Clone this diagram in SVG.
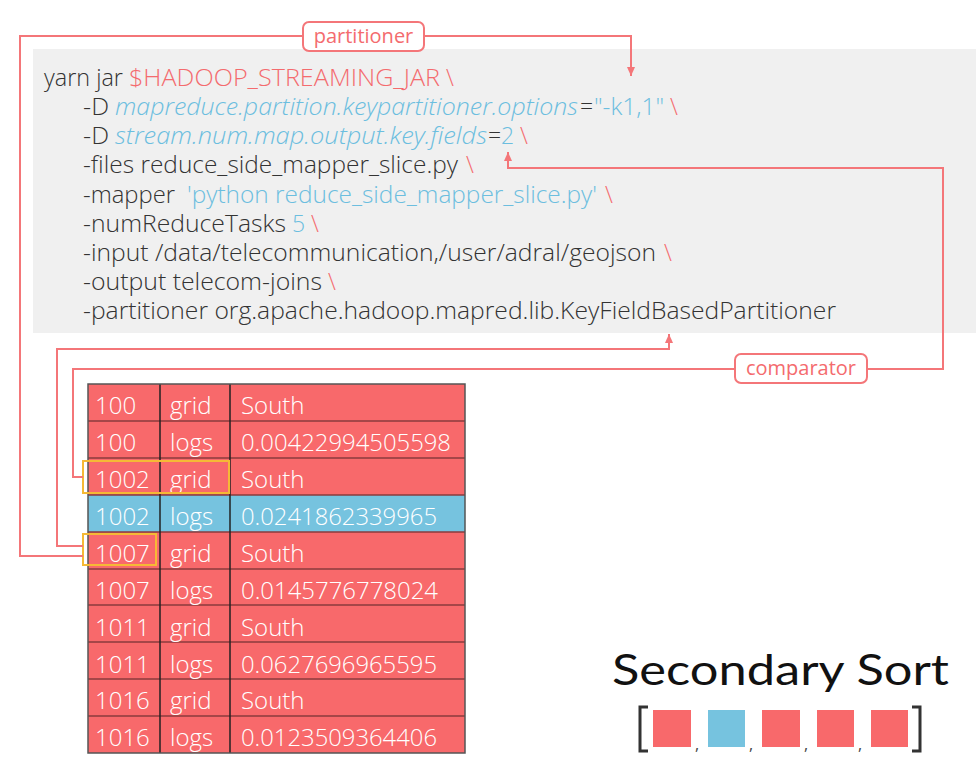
<svg xmlns="http://www.w3.org/2000/svg" width="976" height="776" viewBox="0 0 976 776">
<style>
.code{font-family:"Open Sans",Lato,"Liberation Sans",sans-serif;font-weight:300;font-size:23px;fill:#333}
.red{fill:#f46b6e}
.blue{fill:#6cbedf}
.it{font-style:italic}
.cell{font-family:"Open Sans",Lato,"Liberation Sans",sans-serif;font-weight:300;font-size:24px;fill:#fff}
.conn{fill:none;stroke:#f47679;stroke-width:2}
.lbl{fill:#fff;stroke:#f47679;stroke-width:2}
.lbltxt{font-family:"Open Sans",Lato,"Liberation Sans",sans-serif;font-size:20px;fill:#f46b6e;text-anchor:middle}
.rr{fill:#f8696b}
.bb{fill:#76c3df}
.hl{fill:none;stroke:#f5b935;stroke-width:2}
</style>
<defs>
<marker id="arr" markerWidth="10" markerHeight="10" refX="9" refY="4" orient="auto" markerUnits="userSpaceOnUse">
<path d="M0,0 L9,4 L0,8 z" fill="#f47679"/>
</marker>
</defs>
<rect width="976" height="776" fill="#fff"/>
<g id="code-block">
<rect x="33" y="49" width="943" height="284" fill="#f0f0f0"/>
<text class="code" x="44" y="86" textLength="79" lengthAdjust="spacingAndGlyphs">yarn jar</text>
<text class="code red" x="129" y="86" textLength="311" lengthAdjust="spacingAndGlyphs">$HADOOP_STREAMING_JAR</text>
<text class="code red" x="446" y="86">\</text>
<text class="code" x="83" y="115" textLength="26" lengthAdjust="spacingAndGlyphs">-D</text>
<text class="code blue it" x="115" y="115" textLength="463" lengthAdjust="spacingAndGlyphs">mapreduce.partition.keypartitioner.options</text>
<text class="code" x="580" y="115">=</text>
<text class="code blue" x="594" y="115" textLength="70" lengthAdjust="spacingAndGlyphs">"-k1,1"</text>
<text class="code red" x="670" y="115">\</text>
<text class="code" x="83" y="144" textLength="26" lengthAdjust="spacingAndGlyphs">-D</text>
<text class="code blue it" x="115" y="144" textLength="372" lengthAdjust="spacingAndGlyphs">stream.num.map.output.key.fields</text>
<text class="code" x="488" y="144">=</text>
<text class="code blue" x="501" y="144">2</text>
<text class="code red" x="520" y="144">\</text>
<text class="code" x="83" y="173" textLength="375" lengthAdjust="spacingAndGlyphs">-files reduce_side_mapper_slice.py</text>
<text class="code red" x="466" y="173">\</text>
<text class="code" x="83" y="203" textLength="92" lengthAdjust="spacingAndGlyphs">-mapper</text>
<text class="code blue" x="187" y="203" textLength="410" lengthAdjust="spacingAndGlyphs">'python reduce_side_mapper_slice.py'</text>
<text class="code red" x="605" y="203">\</text>
<text class="code" x="83" y="232" textLength="203" lengthAdjust="spacingAndGlyphs">-numReduceTasks</text>
<text class="code blue" x="292" y="232">5</text>
<text class="code red" x="311" y="232">\</text>
<text class="code" x="83" y="261" textLength="573" lengthAdjust="spacingAndGlyphs">-input /data/telecommunication,/user/adral/geojson</text>
<text class="code red" x="664" y="261">\</text>
<text class="code" x="83" y="290" textLength="239" lengthAdjust="spacingAndGlyphs">-output telecom-joins</text>
<text class="code red" x="328" y="290">\</text>
<text class="code" x="83" y="319" textLength="753" lengthAdjust="spacingAndGlyphs">-partitioner org.apache.hadoop.mapred.lib.KeyFieldBasedPartitioner</text>
</g>
<g id="table">
<rect class="rr" x="88" y="384" width="377" height="369"/>
<rect class="bb" x="88" y="495" width="377" height="37"/>
<g stroke="#8b3b3d" stroke-width="1.5">
<line x1="88" y1="421" x2="465" y2="421"/>
<line x1="88" y1="458" x2="465" y2="458"/>
<line x1="88" y1="495" x2="465" y2="495"/>
<line x1="88" y1="532" x2="465" y2="532"/>
<line x1="88" y1="569" x2="465" y2="569"/>
<line x1="88" y1="605" x2="465" y2="605"/>
<line x1="88" y1="642" x2="465" y2="642"/>
<line x1="88" y1="679" x2="465" y2="679"/>
<line x1="88" y1="716" x2="465" y2="716"/>
</g>
<g stroke="#222" stroke-width="1.5">
<line x1="160" y1="384" x2="160" y2="753"/>
<line x1="230" y1="384" x2="230" y2="753"/>
</g>
<rect x="88" y="384" width="377" height="369" fill="none" stroke="#555" stroke-width="1.5"/>
<g class="cell">
<text x="95" y="414">100</text><text x="170" y="414">grid</text><text x="241" y="414">South</text>
<text x="95" y="451">100</text><text x="170" y="451">logs</text><text x="241" y="451" textLength="210" lengthAdjust="spacingAndGlyphs">0.00422994505598</text>
<text x="95" y="488">1002</text><text x="170" y="488">grid</text><text x="241" y="488">South</text>
<text x="95" y="525">1002</text><text x="170" y="525">logs</text><text x="241" y="525" textLength="196" lengthAdjust="spacingAndGlyphs">0.0241862339965</text>
<text x="95" y="562">1007</text><text x="170" y="562">grid</text><text x="241" y="562">South</text>
<text x="95" y="599">1007</text><text x="170" y="599">logs</text><text x="241" y="599" textLength="197" lengthAdjust="spacingAndGlyphs">0.0145776778024</text>
<text x="95" y="636">1011</text><text x="170" y="636">grid</text><text x="241" y="636">South</text>
<text x="95" y="673">1011</text><text x="170" y="673">logs</text><text x="241" y="673" textLength="196" lengthAdjust="spacingAndGlyphs">0.0627696965595</text>
<text x="95" y="709">1016</text><text x="170" y="709">grid</text><text x="241" y="709">South</text>
<text x="95" y="746">1016</text><text x="170" y="746">logs</text><text x="241" y="746" textLength="196" lengthAdjust="spacingAndGlyphs">0.0123509364406</text>
</g>
</g>
<g id="highlight-1002">
<rect class="hl" x="83" y="461" width="146" height="32"/>
</g>
<g id="highlight-1007">
<rect class="hl" x="83" y="534" width="73" height="31"/>
</g>
<g id="connectors">
<path class="conn" d="M83 556 H20 V36 H631 V76" marker-end="url(#arr)"/>
<path class="conn" d="M83 546 H57 V349 H669 V334" marker-end="url(#arr)"/>
<path class="conn" d="M83 477 H73 V369 H943 V168 H508 V152" marker-end="url(#arr)"/>
</g>
<g id="label-partitioner">
<rect class="lbl" x="303" y="22" width="121" height="29" rx="6"/>
<text class="lbltxt" x="363.5" y="43">partitioner</text>
</g>
<g id="label-comparator">
<rect class="lbl" x="735" y="354" width="132" height="29" rx="6"/>
<text class="lbltxt" x="801" y="375">comparator</text>
</g>
<g id="legend">
<text x="612" y="685" font-family="Lato,'Open Sans','Liberation Sans',sans-serif" font-size="43" fill="#111" textLength="337" lengthAdjust="spacingAndGlyphs">Secondary Sort</text>
<path d="M648 707 H640 V751 H648" fill="none" stroke="#333" stroke-width="3"/>
<path d="M912 707 H920 V751 H912" fill="none" stroke="#333" stroke-width="3"/>
<rect class="rr" x="653" y="710" width="38" height="37"/>
<rect class="bb" x="708" y="710" width="37" height="37"/>
<rect class="rr" x="762" y="710" width="38" height="37"/>
<rect class="rr" x="817" y="710" width="37" height="37"/>
<rect class="rr" x="871" y="710" width="37" height="37"/>
<g font-family="'Open Sans',Lato,'Liberation Sans',sans-serif" font-size="16" fill="#444">
<text x="695" y="750">,</text>
<text x="749" y="750">,</text>
<text x="804" y="750">,</text>
<text x="858" y="750">,</text>
</g>
</g>
</svg>
